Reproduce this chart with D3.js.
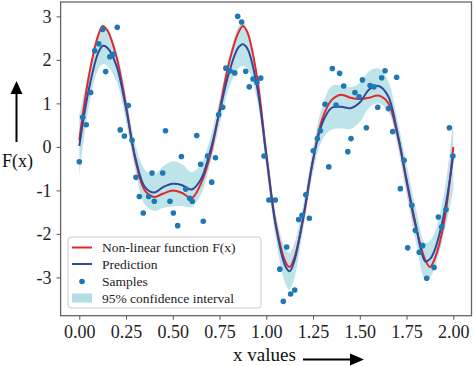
<!DOCTYPE html>
<html><head><meta charset="utf-8">
<script src="https://cdn.jsdelivr.net/npm/d3@7"></script>
<style>body{margin:0;background:#fff} svg text{font-family:"Liberation Serif","Times New Roman","DejaVu Serif",serif;}</style>
</head><body><svg id="c" width="474" height="366"></svg>
<script>
// ---- data ----
const gridX   = [0.00,0.05,0.10,0.125,0.15,0.20,0.25,0.30,0.35,0.40,0.45,0.50,0.55,0.60,0.65,0.70,0.75,0.80,0.85,0.875,0.90,0.95,1.00,1.05,1.10,1.125,1.15,1.20,1.25,1.30,1.35,1.40,1.45,1.50,1.55,1.60,1.65,1.70,1.75,1.80,1.85,1.875,1.90,1.95,2.00];
const trueF   = [0.15,1.60,2.55,2.78,2.68,2.05,0.95,-0.30,-1.00,-1.15,-1.07,-1.00,-1.06,-1.18,-0.85,-0.20,0.85,1.92,2.62,2.78,2.62,1.62,-0.15,-1.75,-2.62,-2.76,-2.55,-1.60,-0.30,0.65,1.08,1.20,1.13,1.10,1.13,1.18,1.02,0.30,-0.80,-1.85,-2.60,-2.76,-2.58,-1.75,0.00];
const predY   = [0.02,1.30,2.15,2.32,2.28,1.85,0.88,-0.25,-0.92,-1.05,-0.92,-0.85,-0.88,-0.98,-0.75,-0.10,0.80,1.70,2.28,2.36,2.25,1.40,-0.20,-1.80,-2.72,-2.86,-2.62,-1.55,-0.30,0.55,0.90,0.92,0.89,1.02,1.32,1.40,1.18,0.35,-0.75,-1.80,-2.63,-2.58,-2.38,-1.55,-0.20];
const ciLower = [-0.68,0.90,1.77,1.90,1.86,1.50,0.58,-0.55,-1.32,-1.47,-1.40,-1.37,-1.36,-1.38,-1.10,-0.40,0.50,1.35,1.80,1.86,1.80,1.10,-0.48,-2.08,-3.12,-3.28,-3.02,-1.83,-0.58,0.17,0.40,0.42,0.41,0.57,0.90,1.00,0.83,0.05,-1.10,-2.18,-3.05,-3.00,-2.78,-2.00,-1.00];
const ciUpper = [0.72,1.70,2.53,2.74,2.70,2.20,1.18,0.05,-0.52,-0.63,-0.44,-0.33,-0.40,-0.58,-0.40,0.20,1.10,2.05,2.76,2.86,2.70,1.70,0.08,-1.52,-2.32,-2.44,-2.22,-1.27,-0.02,0.93,1.40,1.42,1.37,1.47,1.74,1.80,1.53,0.65,-0.40,-1.42,-2.21,-2.16,-1.98,-1.10,0.60];

const sampleX = [0.000,0.018,0.037,0.061,0.082,0.104,0.125,0.141,0.163,0.182,0.203,0.219,0.241,0.262,0.282,0.303,0.321,0.342,0.371,0.389,0.401,0.446,0.461,0.485,0.503,0.526,0.546,0.569,0.590,0.604,0.628,0.649,0.663,0.686,0.708,0.728,0.745,0.767,0.784,0.806,0.831,0.847,0.868,0.890,0.909,0.929,0.950,0.970,0.988,1.014,1.048,1.072,1.091,1.109,1.130,1.152,1.173,1.191,1.211,1.230,1.251,1.273,1.289,1.314,1.334,1.353,1.373,1.392,1.414,1.436,1.453,1.474,1.496,1.514,1.535,1.555,1.576,1.596,1.617,1.635,1.653,1.676,1.697,1.717,1.737,1.756,1.778,1.797,1.818,1.836,1.858,1.897,1.920,1.938,1.961,1.979,1.998];
const sampleY = [-0.34,0.68,0.51,1.25,2.21,2.37,2.70,1.73,2.07,2.13,2.75,0.39,0.25,0.95,0.15,-0.70,-1.14,-1.52,-1.14,-0.60,-1.25,-0.60,0.37,-1.25,-1.52,-1.81,-0.22,-0.97,-1.18,-1.25,0.26,-0.40,-1.71,-0.21,-0.81,-0.25,0.74,0.91,1.81,1.75,1.70,3.00,2.87,1.74,1.38,1.56,1.48,1.58,-0.21,-1.22,-1.22,-2.81,-3.55,-2.30,-3.38,-3.29,-1.67,-1.57,-1.10,-1.64,-0.09,0.19,0.37,0.98,-0.46,1.80,0.96,1.69,1.40,-0.11,0.19,1.25,1.15,1.54,0.44,1.41,1.38,0.91,1.59,1.75,0.88,0.35,1.60,-0.96,-0.31,-2.32,-1.34,-1.92,-2.42,-2.27,-3.02,-2.77,-1.61,-1.84,-1.44,0.44,-0.21];

const xTicks = [0,0.25,0.5,0.75,1,1.25,1.5,1.75,2];
const xTickLabels = ["0.00","0.25","0.50","0.75","1.00","1.25","1.50","1.75","2.00"];
const yTicks = [-3,-2,-1,0,1,2,3];
const yTickLabels = ["-3","-2","-1","0","1","2","3"];
const legendLabels = ["Non-linear function F(x)","Prediction","Samples","95% confidence interval"];
const xTitle = "x values";
const yTitle = "F(x)";

// ---- drawing ----
const RED = "#e3272b", BLUE = "#33489a", DOT = "#1f77b4", BAND = "#b1dfe5";
const svg = d3.select("#c");
const L = 60.6, R = 471.5, T = 2, B = 315.7;
const x = d3.scaleLinear().domain([-0.1, 2.1]).range([L, 472]);
const y = d3.scaleLinear().domain([-3.88, 3.33]).range([B, T]);

svg.append("clipPath").attr("id","clip").append("rect")
  .attr("x",L).attr("y",T).attr("width",R-L).attr("height",B-T);
const plot = svg.append("g").attr("clip-path","url(#clip)");

const idx = d3.range(gridX.length);
plot.append("path")
  .attr("d", d3.area().curve(d3.curveCatmullRom.alpha(0.5))
     .x(i=>x(gridX[i])).y0(i=>y(ciLower[i])).y1(i=>y(ciUpper[i]))(idx))
  .attr("fill", BAND).attr("opacity",0.85);

const line = arr => d3.line().curve(d3.curveCatmullRom.alpha(0.5))
  .x(i=>x(gridX[i])).y(i=>y(arr[i]))(idx);
plot.append("path").attr("d", line(trueF)).attr("fill","none")
  .attr("stroke",RED).attr("stroke-width",2);
plot.append("path").attr("d", line(predY)).attr("fill","none")
  .attr("stroke",BLUE).attr("stroke-width",2);

plot.selectAll("circle.s").data(d3.range(sampleX.length)).join("circle")
  .attr("class","s").attr("cx",i=>x(sampleX[i])).attr("cy",i=>y(sampleY[i]))
  .attr("r",2.8).attr("fill",DOT);

// axes
const xAxis = svg.append("g").attr("transform",`translate(0,${B})`)
  .call(d3.axisBottom(x).tickValues(xTicks).tickFormat((d,i)=>xTickLabels[i]).tickSize(4).tickPadding(6));
const yAxis = svg.append("g").attr("transform",`translate(${L},0)`)
  .call(d3.axisLeft(y).tickValues(yTicks).tickFormat((d,i)=>yTickLabels[i]).tickSize(4).tickPadding(5));
[xAxis,yAxis].forEach(a=>{
  a.attr("font-family", null);
  a.select(".domain").remove();
  a.selectAll(".tick line").attr("stroke","#555");
  a.selectAll("text").attr("font-size",18).attr("fill","#222");
});
svg.append("rect").attr("x",L).attr("y",T).attr("width",R-L).attr("height",B-T)
  .attr("fill","none").attr("stroke","#666").attr("stroke-width",1.3);

// legend
const lg = svg.append("g");
lg.append("rect").attr("x",68).attr("y",237).attr("width",193).attr("height",71).attr("rx",3)
  .attr("fill","#fff").attr("fill-opacity",0.85).attr("stroke","#ccc");
const rows = [247.5,264,281.5,298];
lg.append("line").attr("x1",72).attr("x2",92).attr("y1",rows[0]).attr("y2",rows[0]).attr("stroke",RED).attr("stroke-width",2);
lg.append("line").attr("x1",72).attr("x2",92).attr("y1",rows[1]).attr("y2",rows[1]).attr("stroke",BLUE).attr("stroke-width",2);
lg.append("circle").attr("cx",82).attr("cy",rows[2]).attr("r",2.8).attr("fill",DOT);
lg.append("rect").attr("x",72).attr("y",rows[3]-4.5).attr("width",20).attr("height",9).attr("fill",BAND);
lg.selectAll("text").data(legendLabels).join("text")
  .attr("x",102).attr("y",(d,i)=>rows[i]+4.5).text(d=>d)
  .attr("font-size",13.5).attr("fill","#222");

// titles with arrows
svg.append("text").attr("x",2).attr("y",167).text(yTitle)
  .attr("font-size",18).attr("fill","#111");
svg.append("line").attr("x1",16.5).attr("x2",16.5).attr("y1",92).attr("y2",142).attr("stroke","#000").attr("stroke-width",2);
svg.append("path").attr("d","M16.5,81 L10.5,94 L22.5,94 Z").attr("fill","#000");

svg.append("text").attr("x",233).attr("y",361).text(xTitle)
  .attr("font-size",19).attr("fill","#111");
svg.append("line").attr("x1",303).attr("x2",352).attr("y1",359.5).attr("y2",359.5).attr("stroke","#000").attr("stroke-width",2);
svg.append("path").attr("d","M364,359.5 L350,353.5 L350,365.5 Z").attr("fill","#000");
</script>
</body></html>
